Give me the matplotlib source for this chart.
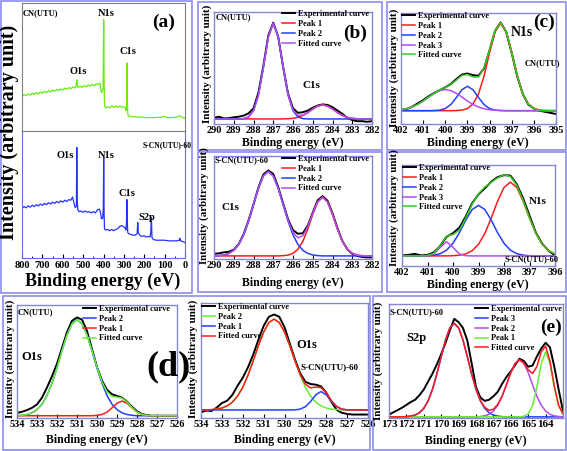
import numpy as np
import matplotlib
matplotlib.use('Agg')
import matplotlib.pyplot as plt
from matplotlib.patches import Rectangle
from matplotlib.ticker import MultipleLocator

plt.rcParams['font.family'] = ['Liberation Serif', 'DejaVu Serif']
plt.rcParams['font.weight'] = 'bold'
plt.rcParams['axes.labelweight'] = 'bold'

# ## Data (intensities in % of each panel height) ## #

# (a) survey spectra
survey_top_x = [800, 790, 780, 770, 760, 750, 740, 730, 720, 710, 700, 690, 680,
                670, 660, 650, 640, 630, 620, 610, 600, 590, 580, 570, 560,
                550, 540, 535, 532, 530, 528, 524, 515, 505, 495, 485, 475, 465,
                455, 445, 435, 425, 418, 414, 410, 405, 402, 400, 399, 397, 395,
                390, 380, 370, 360, 350, 340, 330, 320, 310, 300, 293, 290, 287,
                285.5, 284.5, 283, 281, 279, 270, 250, 230, 200, 170, 140, 110,
                100, 90, 60, 40, 25, 20, 0]
survey_top_y = [27, 28.5, 27.5, 29, 28, 29.5, 28.5, 30, 29, 30.5, 29.5, 31, 30,
                31.5, 30.5, 32, 31, 32.5, 31.5, 33, 32, 33.5, 32.5, 34, 33,
                34.5, 33.5, 35, 39, 40, 35, 34, 35, 34, 35.5, 34.5, 36, 35,
                36.5, 35.5, 37, 36.5, 37.5, 33, 30, 31, 34, 70, 87, 40, 20,
                18, 19, 18, 19.5, 18.5, 19.5, 18.5, 19.5, 18.5, 19, 18, 16, 19,
                45, 53, 25, 14, 12, 11.5, 11, 11, 10.5, 10.5, 10.5, 11,
                11.5, 10.5, 10.5, 11, 12, 11, 10]
survey_bot_x = [800, 790, 780, 770, 760, 750, 740, 730, 720, 710, 700, 690, 680,
                670, 660, 650, 640, 630, 620, 610, 600, 590, 580, 570, 560,
                552, 546, 540, 535, 533, 531, 529, 526, 520, 510, 500, 490, 480,
                470, 460, 450, 440, 430, 420, 415, 410, 404, 401, 399, 397, 395,
                390, 380, 370, 360, 350, 340, 330, 320, 310, 300, 293, 290, 287,
                285, 283, 281, 275, 265, 255, 245, 235, 232, 229, 220, 210, 200,
                190, 180, 172, 168, 165, 162, 155, 140, 120, 100, 80, 60, 40,
                28, 25, 22, 10, 0]
survey_bot_y = [39, 40.5, 39.5, 41, 40, 41.5, 40.5, 42, 41, 42.5, 41.5, 43, 42,
                43.5, 42.5, 44, 43, 44.5, 43.5, 45, 44, 45.5, 44.5, 46, 45.5,
                48, 44, 40, 40, 42, 87, 45, 38, 36.5, 37, 36, 37, 36,
                36.5, 35.5, 36.5, 35.5, 38, 38.5, 36, 31, 31, 40, 79, 35, 23,
                22, 22.5, 21.5, 22.5, 21.5, 22.5, 23, 25, 25.5, 24.5, 23.5, 22, 28,
                46, 28, 20, 19, 18.5, 18, 18, 19, 28, 20, 17.5, 17, 17.5,
                16.5, 17, 16.5, 20, 32, 16, 14.5, 14, 14, 14, 13.5, 13.5, 13.5,
                14, 15.5, 13.5, 13, 12]

# (b) C1s, 290 -> 282 eV every 0.25 eV
b_x = np.linspace(290, 282, 33)
b1_exp = [5.5, 6.5, 5, 5.2, 6, 6.5, 7.5, 9.5, 14, 28, 52, 79, 90.5, 78, 51, 27, 14,
          10, 10.5, 12, 14.5, 16.5, 17.5, 17, 15, 12, 9, 5.5, 3.5, 2.5, 2.5, 2, 2.5]
b1_p1 = [4.5, 4.5, 4.5, 4.5, 4.5, 4.5, 4.5, 4.5, 4.5, 4.5, 4.5, 4.5, 4.5, 4.5, 4.5,
         4.7, 5.05, 5.9, 7.6, 10.2, 13.3, 16.0, 17.0, 16.0, 13.3, 10.2, 7.6, 5.9,
         5.05, 4.7, 4.5, 4.5, 4.5]
b1_p2 = [4.5, 4.5, 4.5, 4.5, 4.5, 4.5, 4.8, 6.3, 11.8, 25.8, 50.6, 77.8, 90, 77.8,
         50.6, 25.8, 11.8, 6.3, 4.8, 4.5, 4.5, 4.5, 4.5, 4.5, 4.5, 4.5, 4.5, 4.5,
         4.5, 4.5, 4.5, 4.5, 4.5]
b1_fit = [4.5, 4.5, 4.5, 4.5, 4.5, 4.5, 4.8, 6.3, 11.8, 25.8, 50.6, 77.8, 90, 77.8,
          50.6, 26.0, 12.35, 7.7, 7.9, 10.2, 13.3, 16.0, 17.0, 16.0, 13.3, 10.2,
          7.6, 5.9, 5.05, 4.7, 4.5, 4.5, 4.5]
b2_exp = [5, 5.5, 6.5, 7, 9, 14.5, 24, 37.5, 53, 69.5, 82, 86, 82.5, 70, 54, 38.5,
          28, 24.5, 25, 32.5, 45, 57, 61, 56.5, 44.5, 30, 17.5, 9.5, 5, 3, 2, 1.5, 1.5]
b2_p1 = [3, 3, 3, 3, 3, 3, 3, 3, 3, 3, 3, 3, 3, 3, 3.2, 3.8, 5.5, 9.5, 17.2, 29.1,
         43.3, 55.3, 60, 55.3, 43.3, 29.1, 17.2, 9.5, 5.5, 3.8, 3.2, 3, 3]
b2_p2 = [3, 3.3, 3.9, 5.4, 8.4, 14.1, 23.4, 36.7, 52.8, 68.7, 80.6, 85, 80.6, 68.7,
         52.8, 36.7, 23.4, 14.1, 8.4, 5.4, 3.9, 3.3, 3, 3, 3, 3, 3, 3, 3, 3, 3, 3, 3]
b2_fit = [3, 3.3, 3.9, 5.4, 8.4, 14.1, 23.4, 36.7, 52.8, 68.7, 80.6, 85, 80.6, 68.7,
          53.0, 37.5, 25.9, 20.6, 22.6, 31.5, 44.2, 55.6, 60, 55.3, 43.3, 29.1,
          17.2, 9.5, 5.5, 3.8, 3.2, 3, 3]

# (c) N1s
c1_x = np.linspace(402, 395, 29)
c1_exp = [12.5, 13.5, 15.5, 18.5, 21.5, 25, 28, 30.5, 33, 36, 40.5, 44.5, 45.5, 44,
          43.5, 50, 66.5, 84, 91.5, 83, 64, 43, 27, 17.5, 14, 12, 11, 10, 9]
c1_p1 = [12, 12, 12, 12, 12, 12, 12, 12, 12, 12, 12.1, 12.5, 13.9, 18.0, 27.1, 43.2,
         64.3, 83.3, 91, 83.3, 64.3, 43.2, 27.1, 18.0, 13.9, 12.5, 12.1, 12, 12]
c1_p2 = [12, 12, 12, 12, 12, 12, 12.1, 12.5, 13.9, 17.5, 23.9, 30.9, 34, 30.9, 23.9,
         17.5, 13.9, 12.5, 12.1, 12, 12, 12, 12, 12, 12, 12, 12, 12, 12]
c1_p3 = [12.8, 13.7, 15.3, 17.6, 20.7, 24.3, 27.6, 30.1, 31, 30.1, 27.6, 24.3, 20.7,
         17.6, 15.3, 13.7, 12.8, 12.4, 12.2, 12, 12, 12, 12, 12, 12, 12, 12, 12, 12]
c1_fit = [12.8, 13.7, 15.3, 17.6, 20.7, 24.3, 27.7, 30.6, 32.9, 35.6, 39.6, 43.7,
          44.6, 42.5, 42.3, 50.4, 67.0, 84.2, 91.3, 83.3, 64.3, 43.2, 27.1, 18.0,
          13.9, 12.5, 12.1, 12, 12]
c2_x = np.linspace(402, 396, 25)
c2_exp = [10.5, 11, 12, 10.5, 11, 13.5, 20, 29, 32.5, 38, 49, 62, 71, 77, 83.5, 88,
          90, 89.5, 81, 67, 50, 33, 22, 15, 10.5]
c2_p1 = [10, 10, 10, 10, 10, 10, 10, 10, 10.2, 10.7, 12.0, 15.1, 21.5, 32.3, 47.5,
         64.3, 77.8, 83, 77.8, 64.3, 47.5, 32.3, 21.5, 15.1, 12.0]
c2_p2 = [10, 10, 10, 10, 10.2, 10.7, 12.2, 15.7, 22.5, 32.9, 45.4, 55.9, 60, 55.9,
         45.4, 32.9, 22.5, 15.7, 12.2, 10.7, 10.2, 10, 10, 10, 10]
c2_p3 = [10, 10, 10, 10, 10.2, 11.9, 18.5, 24, 18.5, 11.9, 10.2, 10, 10, 10, 10, 10,
         10, 10, 10, 10, 10, 10, 10, 10, 10]
c2_fit = [10, 10, 10, 10, 10.4, 12.6, 20.7, 29.7, 31.2, 35.5, 47.6, 61.0, 71.5, 78.2,
          82.9, 87.2, 90.3, 88.7, 80.0, 65.0, 47.7, 32.3, 21.5, 15.1, 12.0]

# (d) O1s, 534 -> 526 eV
d_x = np.linspace(534, 526, 33)
d1_exp = [4.5, 5.5, 7, 9, 12, 18, 27, 37, 48, 62, 76, 86, 89, 87, 77, 61, 45, 33,
          25, 21, 19.5, 18, 14.5, 10, 6, 3.5, 2.5, 2, 2, 2, 2, 2, 2]
d1_p2 = [2, 2.4, 3.1, 4.6, 7.4, 12.2, 19.9, 30.8, 44.5, 59.6, 73.5, 83.4, 87, 83.4,
         73.5, 59.6, 44.5, 30.8, 19.9, 12.2, 7.4, 4.6, 3.1, 2.4, 2, 2, 2, 2, 2, 2,
         2, 2, 2]
d1_p1 = [2, 2, 2, 2, 2, 2, 2, 2, 2, 2, 2, 2, 2, 2, 2, 2, 2.3, 3.1, 5.2, 9, 13.1, 15,
         13.1, 9, 5.2, 3.1, 2.3, 2, 2, 2, 2, 2, 2]
d1_fit = [2, 2.4, 3.1, 4.6, 7.4, 12.2, 19.9, 30.8, 44.5, 59.6, 73.5, 83.4, 87, 83.4,
          73.5, 59.6, 44.8, 31.9, 23.1, 19.2, 18.5, 17.6, 14.2, 9.4, 5.2, 3.1, 2.3,
          2, 2, 2, 2, 2, 2]
d2_exp = [5, 6.5, 6, 9, 13, 15, 20, 28, 35, 44, 55, 68, 80, 88, 90, 88, 79, 65, 51,
          39, 31.5, 29.5, 29, 27.5, 22, 14, 7, 4.5, 3.5, 3, 3, 3, 3]
d2_p2 = [7, 7, 7.3, 7.7, 8.7, 10.5, 13.7, 18.9, 26.7, 37.1, 49.6, 62.9, 74.7, 83, 86,
         83, 74.7, 62.9, 49.6, 37.1, 26.7, 18.9, 13.7, 10.5, 8.7, 7.7, 7.3, 7, 7, 7,
         7, 7, 7]
d2_p1 = [7, 7, 7, 7, 7, 7, 7, 7, 7, 7, 7, 7, 7, 7, 7, 7, 7, 7, 7.1, 7.7, 9.8, 14.3,
         20.2, 23, 20.2, 14.3, 9.8, 7.7, 7.1, 7, 7, 7, 7]
d2_fit = [7, 7, 7.3, 7.7, 8.7, 10.5, 13.7, 18.9, 26.7, 37.1, 49.6, 62.9, 74.7, 83,
          86, 83, 74.7, 62.9, 49.7, 37.8, 29.5, 26.2, 26.9, 26.5, 21.9, 15.0, 10.1,
          7.7, 7.1, 7, 7, 7, 7]

# (e) S2p, 173 -> 163 eV
e_x = np.linspace(173, 163, 41)
e_exp = [3, 5, 7, 9, 11.5, 14, 16, 20, 25, 32, 39, 47, 56, 66, 77, 87, 84, 79, 68,
         48, 27, 18, 15, 16, 19, 23, 30, 36, 41, 46.5, 52, 50, 45, 46, 54, 61, 66,
         62, 45, 25, 6]
e_p3 = [1, 1, 1, 1, 1.2, 1.7, 2.6, 4.6, 8.5, 15.1, 25.2, 38.6, 53.9, 68.5, 79.1, 83,
        79.1, 68.5, 53.9, 38.6, 25.2, 15.1, 8.5, 4.6, 2.6, 1.7, 1.2, 1, 1, 1, 1, 1,
        1, 1, 1, 1, 1, 1, 1, 1, 1]
e_p2 = [1, 1, 1, 1, 1, 1, 1, 1, 1, 1, 1, 1, 1, 1, 1, 1, 1, 1, 1, 1, 1, 1.3, 1.9, 3.2,
        6.1, 11.2, 19, 29.2, 39.8, 47.9, 51, 47.9, 39.8, 29.2, 19, 11.2, 6.1, 3.2,
        1.9, 1.3, 1]
e_p1 = [1, 1, 1, 1, 1, 1, 1, 1, 1, 1, 1, 1, 1, 1, 1, 1, 1, 1, 1, 1, 1, 1, 1, 1, 1,
        1, 1, 1, 1, 1, 1, 1.5, 3.5, 10.8, 27.1, 47.9, 58, 47.9, 27.1, 10.8, 3.5]
e_fit = [1, 1, 1, 1, 1.2, 1.7, 2.6, 4.6, 8.5, 15.1, 25.2, 38.6, 53.9, 68.5, 79.1, 83,
         79.1, 68.5, 53.9, 38.6, 25.2, 15.4, 9.4, 6.8, 7.7, 11.9, 19.2, 29.2, 39.8,
         47.9, 51, 48.4, 42.3, 39, 45.1, 58.1, 63.1, 50.1, 28, 11.1, 3.5]

# colours
black = '#000000'
red = '#ff1a1a'
blue = '#2040ff'
purple = '#b44cf0'
green_c = '#33cc22'
green_d = '#66ee33'
frame_col = '#8c8cf0'
spine_col = '#8585d8'

W, H = 567, 451
fig = plt.figure(figsize=(W / 100, H / 100), dpi=100)


def px_box(x0, y0, x1, y1):
    return [x0 / W, 1 - y1 / H, (x1 - x0) / W, (y1 - y0) / H]


def txt(x, y, s, size, ha='center', rot=0):
    fig.text(x / W, 1 - y / H, s, fontsize=size, fontweight='bold',
             ha=ha, va='center', rotation=rot)


def frame(x0, y0, x1, y1):
    fig.patches.append(Rectangle((x0 / W, 1 - y1 / H), (x1 - x0) / W,
                                 (y1 - y0) / H, transform=fig.transFigure,
                                 fill=False, edgecolor=frame_col, lw=1.2))


def sub_axes(rect, xlim, tick_size=7.5):
    ax = fig.add_axes(px_box(*rect))
    ax.set_xlim(*xlim)
    ax.set_ylim(0, 100)
    ax.set_yticks([])
    ax.xaxis.set_major_locator(MultipleLocator(1))
    ax.tick_params(axis='x', direction='in', length=3, width=0.8,
                   labelsize=tick_size, pad=1.5)
    for s in ax.spines.values():
        s.set_color(spine_col)
        s.set_linewidth(1.0)
    return ax


def legend(ax, x, y):
    ax.legend(loc='upper left', bbox_to_anchor=(x / W, 1 - y / H),
              bbox_transform=fig.transFigure, frameon=False, fontsize=6,
              handlelength=1.6, handletextpad=0.3, labelspacing=0.22,
              borderpad=0, borderaxespad=0)


# frames around the panels
for r in [(1, 1, 192, 293), (198, 2, 382, 150), (198, 152, 382, 292),
          (387, 2, 566, 150), (387, 152, 566, 292), (3, 296, 370, 450),
          (373, 296, 566, 450)]:
    frame(*r)

# ---------------- (a) survey ----------------
axa1 = fig.add_axes(px_box(22, 3, 185, 131))
axa1.plot(survey_top_x, survey_top_y, color='#66ee11', lw=0.9)
axa1.set_xlim(800, 0)
axa1.set_ylim(0, 100)
axa1.set_xticks([])
axa1.set_yticks([])
for s in axa1.spines.values():
    s.set_color('#808080')

axa2 = fig.add_axes(px_box(22, 131, 185, 258))
axa2.plot(survey_bot_x, survey_bot_y, color='#2233ff', lw=0.9)
axa2.set_xlim(800, 0)
axa2.set_ylim(0, 100)
axa2.set_yticks([])
axa2.xaxis.set_major_locator(MultipleLocator(100))
axa2.xaxis.set_minor_locator(MultipleLocator(50))
axa2.tick_params(axis='x', which='both', direction='in', labelsize=7.5, pad=2)
axa2.tick_params(axis='x', which='major', length=3)
axa2.tick_params(axis='x', which='minor', length=1.5)
for s in axa2.spines.values():
    s.set_color('#6a6ad8')
axa2.spines['top'].set_color('#808080')

txt(9, 132, 'Intensity (arbitrary unit)', 14.5, rot=90)
txt(103, 281, 'Binding energy (eV)', 13)
txt(164, 22, '(a)', 14)
txt(23, 13, 'CN(UTU)', 6, ha='left')
txt(106, 14, 'N1s', 7.5)
txt(128, 52, 'C1s', 7.5)
txt(78, 72, 'O1s', 7.5)
txt(167, 145, 'S-CN(UTU)-60', 5.5)
txt(65, 155, 'O1s', 7.5)
txt(106, 155, 'N1s', 7.5)
txt(127, 193, 'C1s', 7.5)
txt(147, 218, 'S2p', 7.5)

# ---------------- (b) C1s ----------------
axb1 = sub_axes((214, 12, 372, 124), (290, 282))
axb1.plot(b_x, b1_exp, color=black, lw=1.4, label='Experimental curve')
axb1.plot(b_x, b1_p1, color=red, lw=1.1, label='Peak 1')
axb1.plot(b_x, b1_p2, color=blue, lw=1.1, label='Peak 2')
axb1.plot(b_x, b1_fit, color=purple, lw=1.1, label='Fitted curve')
legend(axb1, 282, 10)
txt(207, 64, 'Intensity (arbitrary unit)', 8, rot=90)
txt(293, 143, 'Binding energy (eV)', 8.5)
txt(216, 17, 'CN(UTU)', 6, ha='left')
txt(311, 85, 'C1s', 8)
txt(355, 33, '(b)', 14)

axb2 = sub_axes((214, 156, 372, 259), (290, 282))
axb2.plot(b_x, b2_exp, color=black, lw=1.4, label='Experimental curve')
axb2.plot(b_x, b2_p1, color=red, lw=1.1, label='Peak 1')
axb2.plot(b_x, b2_p2, color=blue, lw=1.1, label='Peak 2')
axb2.plot(b_x, b2_fit, color=purple, lw=1.1, label='Fitted curve')
legend(axb2, 282, 155)
txt(204, 206, 'Intensity (arbitrary unit)', 7.8, rot=90)
txt(293, 283, 'Binding energy (eV)', 8.5)
txt(215, 160, 'S-CN(UTU)-60', 6, ha='left')
txt(230, 207, 'C1s', 8)

# ---------------- (c) N1s ----------------
axc1 = sub_axes((401, 13, 556, 124), (402, 395))
axc1.plot(c1_x, c1_exp, color=black, lw=1.4, label='Experimental curve')
axc1.plot(c1_x, c1_p1, color=red, lw=1.1, label='Peak 1')
axc1.plot(c1_x, c1_p2, color=blue, lw=1.1, label='Peak 2')
axc1.plot(c1_x, c1_p3, color=purple, lw=1.1, label='Peak 3')
axc1.plot(c1_x, c1_fit, color=green_c, lw=1.1, label='Fitted curve')
legend(axc1, 402, 12)
txt(394, 68, 'Intensity (arbitrary unit)', 8, rot=90)
txt(478, 143, 'Binding energy (eV)', 8.5)
txt(522, 33, 'N1s', 10)
txt(542, 63, 'CN(UTU)', 6)
txt(544, 22, '(c)', 14)

axc2 = sub_axes((402, 165, 555, 266), (402, 396))
axc2.plot(c2_x, c2_exp, color=black, lw=1.4, label='Experimental curve')
axc2.plot(c2_x, c2_p1, color=red, lw=1.1, label='Peak 1')
axc2.plot(c2_x, c2_p2, color=blue, lw=1.1, label='Peak 2')
axc2.plot(c2_x, c2_p3, color=purple, lw=1.1, label='Peak 3')
axc2.plot(c2_x, c2_fit, color=green_c, lw=1.1, label='Fitted curve')
legend(axc2, 403, 164)
txt(394, 208, 'Intensity (arbitrary unit)', 7.8, rot=90)
txt(478, 285, 'Binding energy (eV)', 8.5)
txt(538, 202, 'N1s', 8)
txt(532, 259, 'S-CN(UTU)-60', 6)

# ---------------- (d) O1s ----------------
axd1 = sub_axes((17, 305, 177, 418), (534, 526))
axd1.plot(d_x, d1_exp, color=black, lw=1.4, label='Experimental curve')
axd1.plot(d_x, d1_p2, color=blue, lw=1.1, label='Peak 2')
axd1.plot(d_x, d1_p1, color=red, lw=1.1, label='Peak 1')
axd1.plot(d_x, d1_fit, color=green_d, lw=1.1, label='Fitted curve')
legend(axd1, 83, 305)
txt(10, 359, 'Intensity (arbitrary unit)', 8, rot=90)
txt(97, 440, 'Binding energy (eV)', 8.5)
txt(18, 312, 'CN(UTU)', 6, ha='left')
txt(32, 357, 'O1s', 9)

axd2 = sub_axes((201, 303, 368, 418), (534, 526))
axd2.plot(d_x, d2_exp, color=black, lw=1.4, label='Experimental curve')
axd2.plot(d_x, d2_p2, color=green_d, lw=1.1, label='Peak 2')
axd2.plot(d_x, d2_p1, color=blue, lw=1.1, label='Peak 1')
axd2.plot(d_x, d2_fit, color=red, lw=1.1, label='Fitted curve')
legend(axd2, 202, 303)
txt(193, 359, 'Intensity (arbitrary unit)', 8, rot=90)
txt(285, 440, 'Binding energy (eV)', 8.5)
txt(307, 345, 'O1s', 9)
txt(330, 367, 'S-CN(UTU)-60', 6.5)
txt(168, 367, '(d)', 26)

# ---------------- (e) S2p ----------------
axe = sub_axes((389, 304, 563, 418), (173, 163), tick_size=8)
axe.set_xticks(range(173, 163, -1))
axe.plot(e_x, e_exp, color=black, lw=1.4, label='Experimental curve')
axe.plot(e_x, e_p3, color=blue, lw=1.1, label='Peak 3')
axe.plot(e_x, e_p2, color=purple, lw=1.1, label='Peak 2')
axe.plot(e_x, e_p1, color=green_d, lw=1.1, label='Peak 1')
axe.plot(e_x, e_fit, color=red, lw=1.1, label='Fitted curve')
legend(axe, 475, 305)
txt(378, 361, 'Intensity (arbitrary unit)', 8, rot=90)
txt(476, 441, 'Binding energy (eV)', 8.5)
txt(390, 312, 'S-CN(UTU)-60', 6, ha='left')
txt(416, 338, 'S2p', 9)
txt(551, 327, '(e)', 14)

fig.savefig('out.png', dpi=100)
